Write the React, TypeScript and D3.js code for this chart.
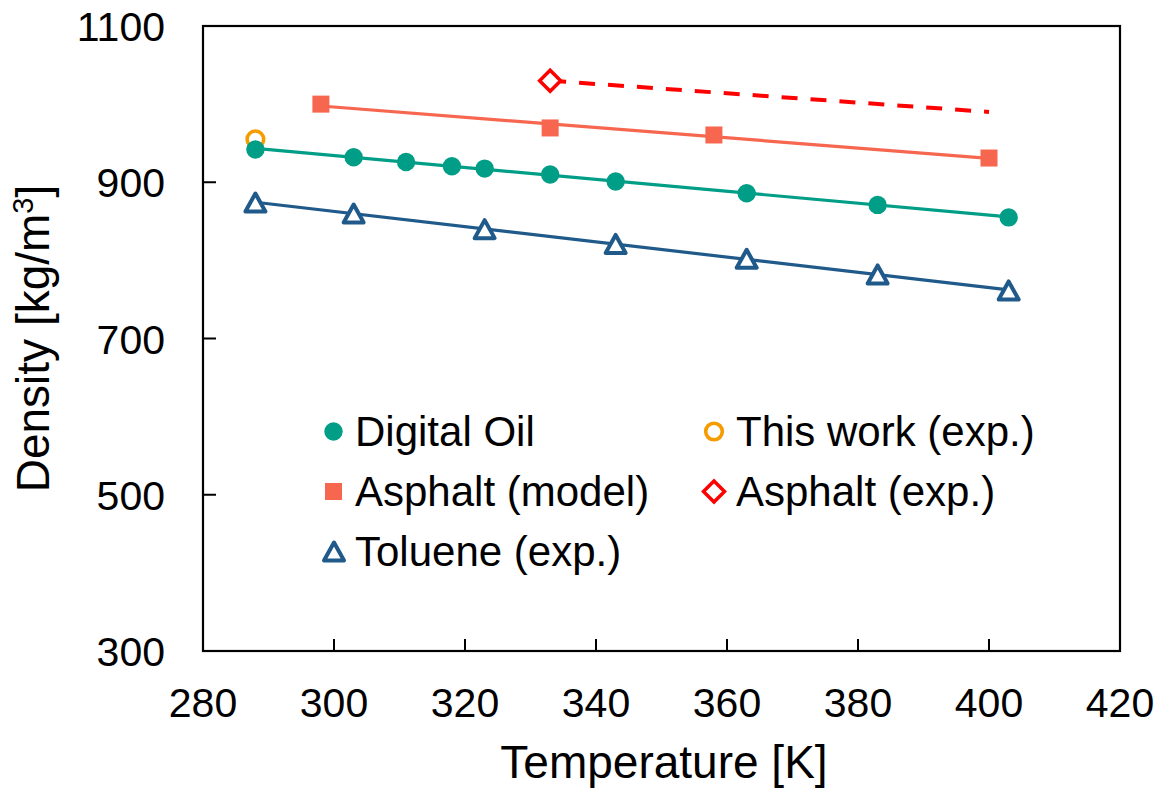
import React from "react";
import * as d3 from "d3";

// ---- data ----
const digitalOilT = [288, 303, 311, 318, 323, 333, 343, 363, 383, 403];
const digitalOilRho = [942, 932, 926, 920.5, 917.5, 910, 901, 886, 871, 855];

const thisWorkT = [288];
const thisWorkRho = [955];

const asphaltModelT = [298, 333, 358, 400];
const asphaltModelRho = [1000, 969.5, 960.5, 931];

const asphaltExpT = [333];
const asphaltExpRho = [1030];
const asphaltExpTrendT = [333, 400];
const asphaltExpTrendRho = [1030, 990];

const tolueneT = [288, 303, 323, 343, 363, 383, 403];
const tolueneRho = [874, 860, 840, 821, 802, 782, 761.5];

const xTicks = [280, 300, 320, 340, 360, 380, 400, 420];
const yTicks = [300, 500, 700, 900, 1100];

const legendLabels = [
  "Digital Oil",
  "This work (exp.)",
  "Asphalt (model)",
  "Asphalt (exp.)",
  "Toluene (exp.)",
];

const COLORS = {
  teal: "#009E86",
  orange: "#F59C00",
  salmon: "#F7664F",
  red: "#FF0000",
  navy: "#1F5A8A",
};

const W = 1166;
const H = 791;
const M = { left: 203, right: 1120, top: 26, bottom: 651 };
const FONT = "'Liberation Sans', Arial, Helvetica, sans-serif";

function fit(xs: number[], ys: number[]) {
  const mx = d3.mean(xs)!;
  const my = d3.mean(ys)!;
  let sxy = 0,
    sxx = 0;
  xs.forEach((x, i) => {
    sxy += (x - mx) * (ys[i] - my);
    sxx += (x - mx) * (x - mx);
  });
  const b = sxy / sxx;
  const a = my - b * mx;
  const x0 = d3.min(xs)!;
  const x1 = d3.max(xs)!;
  return [
    [x0, a + b * x0],
    [x1, a + b * x1],
  ] as [number, number][];
}

const x = d3.scaleLinear().domain([280, 420]).range([M.left, M.right]);
const y = d3.scaleLinear().domain([300, 1100]).range([M.bottom, M.top]);

const line = d3
  .line<[number, number]>()
  .x((d) => x(d[0]))
  .y((d) => y(d[1]));

function Tri({ cx, cy, color }: { cx: number; cy: number; color: string }) {
  const w = 20,
    h = 18;
  const p = `M${cx},${cy - h / 2} L${cx + w / 2},${cy + h / 2} L${cx - w / 2},${cy + h / 2} Z`;
  return <path d={p} fill="white" stroke={color} strokeWidth={4} strokeLinejoin="round" />;
}

function Diamond({ cx, cy, color }: { cx: number; cy: number; color: string }) {
  const r = 10.5;
  const p = `M${cx},${cy - r} L${cx + r},${cy} L${cx},${cy + r} L${cx - r},${cy} Z`;
  return <path d={p} fill="white" stroke={color} strokeWidth={3.5} />;
}

function Marker({ kind, cx, cy }: { kind: number; cx: number; cy: number }) {
  if (kind === 0) return <circle cx={cx} cy={cy} r={9.2} fill={COLORS.teal} />;
  if (kind === 1)
    return <circle cx={cx} cy={cy} r={8.3} fill="white" stroke={COLORS.orange} strokeWidth={3.6} />;
  if (kind === 2)
    return <rect x={cx - 8.5} y={cy - 8.5} width={17} height={17} fill={COLORS.salmon} />;
  if (kind === 3) return <Diamond cx={cx} cy={cy} color={COLORS.red} />;
  return <Tri cx={cx} cy={cy} color={COLORS.navy} />;
}

export default function App() {
  const doFit = fit(digitalOilT, digitalOilRho);
  const amFit = fit(asphaltModelT, asphaltModelRho);
  const tolFit = fit(tolueneT, tolueneRho);
  const trend = asphaltExpTrendT.map((t, i) => [t, asphaltExpTrendRho[i]] as [number, number]);

  const legendPos = [
    { mx: 333.5, my: 431.5, tx: 355 },
    { mx: 714, my: 431.5, tx: 736 },
    { mx: 333.5, my: 491.5, tx: 355 },
    { mx: 714, my: 491.5, tx: 736 },
    { mx: 334, my: 551.5, tx: 355 },
  ];

  return (
    <svg
      width={W}
      height={H}
      style={{ position: "absolute", left: 0, top: 0, background: "white" }}
      fontFamily={FONT}
    >
      <rect width={W} height={H} fill="white" />
      {/* fitted lines */}
      <path d={line(amFit)!} stroke={COLORS.salmon} strokeWidth={3.2} fill="none" />
      <path
        d={line(trend)!}
        stroke={COLORS.red}
        strokeWidth={4}
        fill="none"
        strokeDasharray="16 13"
      />
      <path d={line(doFit)!} stroke={COLORS.teal} strokeWidth={3.2} fill="none" />
      <path d={line(tolFit)!} stroke={COLORS.navy} strokeWidth={3.2} fill="none" />

      {/* markers */}
      {asphaltModelT.map((t, i) => (
        <Marker key={"am" + i} kind={2} cx={x(t)} cy={y(asphaltModelRho[i])} />
      ))}
      {asphaltExpT.map((t, i) => (
        <Marker key={"ae" + i} kind={3} cx={x(t)} cy={y(asphaltExpRho[i])} />
      ))}
      {thisWorkT.map((t, i) => (
        <Marker key={"tw" + i} kind={1} cx={x(t)} cy={y(thisWorkRho[i])} />
      ))}
      {digitalOilT.map((t, i) => (
        <Marker key={"do" + i} kind={0} cx={x(t)} cy={y(digitalOilRho[i])} />
      ))}
      {tolueneT.map((t, i) => (
        <Marker key={"to" + i} kind={4} cx={x(t)} cy={y(tolueneRho[i])} />
      ))}

      {/* frame */}
      <rect
        x={M.left}
        y={M.top}
        width={M.right - M.left}
        height={M.bottom - M.top}
        fill="none"
        stroke="black"
        strokeWidth={2.2}
      />
      {/* ticks */}
      {xTicks.map((t) => (
        <g key={"xt" + t}>
          <line x1={x(t)} x2={x(t)} y1={M.bottom} y2={M.bottom - 12} stroke="black" strokeWidth={2} />
          <text x={x(t)} y={717} textAnchor="middle" fontSize={41} fill="black">
            {t}
          </text>
        </g>
      ))}
      {yTicks.map((t) => (
        <g key={"yt" + t}>
          <line x1={M.left} x2={M.left + 13} y1={y(t)} y2={y(t)} stroke="black" strokeWidth={2} />
          <text x={165} y={y(t) + 15} textAnchor="end" fontSize={41} fill="black">
            {t}
          </text>
        </g>
      ))}

      {/* axis titles */}
      <text x={664} y={778} textAnchor="middle" fontSize={46} fill="black">
        Temperature [K]
      </text>
      <text
        transform={`translate(49, ${(M.top + M.bottom) / 2}) rotate(-90)`}
        textAnchor="middle"
        fontSize={46}
        fill="black"
      >
        Density [kg/m
        <tspan fontSize={29} dy={-16}>
          3
        </tspan>
        <tspan dy={16}>]</tspan>
      </text>

      {/* legend */}
      {legendLabels.map((lab, i) => (
        <g key={"lg" + i}>
          <Marker kind={i} cx={legendPos[i].mx} cy={legendPos[i].my} />
          <text x={legendPos[i].tx} y={legendPos[i].my + 14} fontSize={42} fill="black">
            {lab}
          </text>
        </g>
      ))}
    </svg>
  );
}
